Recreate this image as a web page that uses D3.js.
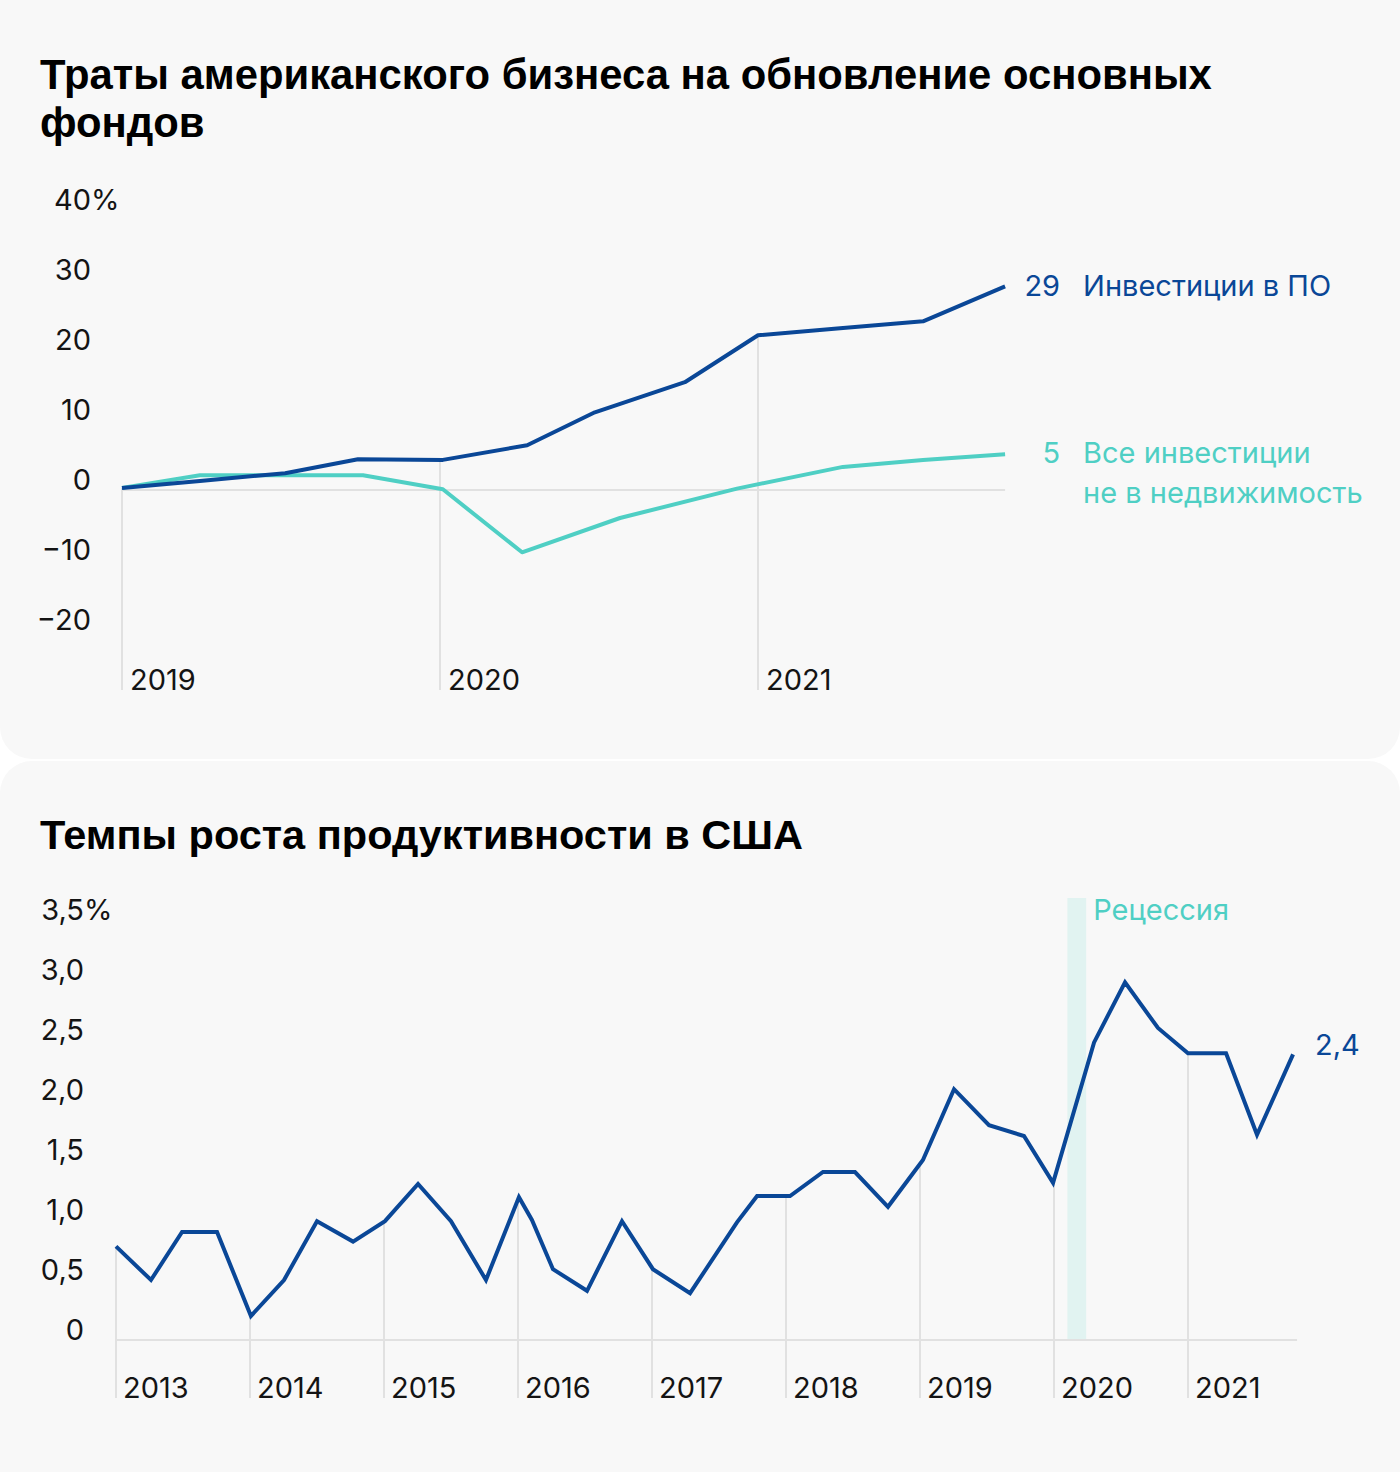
<!DOCTYPE html>
<html>
<head>
<meta charset="utf-8">
<script src="https://cdn.jsdelivr.net/npm/d3@7"></script>
<style>
  html, body { margin: 0; padding: 0; background: #ffffff; }
  svg { display: block; }
  text { font-family: Inter, Roboto, "Liberation Sans", sans-serif; }
</style>
</head>
<body>
<svg id="chart" width="1400" height="1472"></svg>
<script>
// ---------- DATA: chart 1 ----------
const title1 = ["Траты американского бизнеса на обновление основных", "фондов"];
const years1 = [2019, 2020, 2021];
const yTicks1 = [40, 30, 20, 10, 0, -10, -20];
const yTickLabels1 = ["40", "30", "20", "10", "0", "\u221210", "\u221220"];
// software investment (time in fractional years, value in %)
const softwareT = [2019.0, 2019.245, 2019.513, 2019.742, 2020.009, 2020.274, 2020.487, 2020.770, 2021.0, 2021.258, 2021.519, 2021.777];
const softwareV = [0.3, 1.3, 2.4, 4.4, 4.3, 6.4, 11.1, 15.4, 22.1, 23.1, 24.1, 29.1];
// all non-residential investment
const allInvT = [2019.0, 2019.245, 2019.758, 2020.009, 2020.258, 2020.566, 2020.934, 2021.267, 2021.519, 2021.777];
const allInvV = [0.3, 2.1, 2.1, 0.1, -8.9, -4.0, 0.2, 3.3, 4.3, 5.1];
const softwareLabel = ["29", "Инвестиции в ПО"];
const allInvLabel = ["5", "Все инвестиции", "не в недвижимость"];

// ---------- DATA: chart 2 ----------
const title2 = "Темпы роста продуктивности в США";
const years2 = [2013, 2014, 2015, 2016, 2017, 2018, 2019, 2020, 2021];
const yTicks2 = [3.5, 3.0, 2.5, 2.0, 1.5, 1.0, 0.5, 0];
const yTickLabels2 = ["3,5", "3,0", "2,5", "2,0", "1,5", "1,0", "0,5", "0"];
const prodT = [2013.0, 2013.261, 2013.493, 2013.754, 2014.007, 2014.254, 2014.5, 2014.769,
  2015.007, 2015.254, 2015.5, 2015.761, 2016.007, 2016.104, 2016.261, 2016.515, 2016.776,
  2017.007, 2017.284, 2017.634, 2017.784, 2018.03, 2018.276, 2018.515, 2018.761,
  2019.022, 2019.254, 2019.515, 2019.776, 2019.993, 2020.299, 2020.53, 2020.776,
  2021.0, 2021.284, 2021.515, 2021.784];
const prodV = [0.78, 0.5, 0.9, 0.9, 0.2, 0.5, 0.99, 0.82,
  0.99, 1.3, 0.99, 0.5, 1.19, 1.0, 0.59, 0.41, 0.99,
  0.59, 0.39, 0.98, 1.2, 1.2, 1.4, 1.4, 1.11,
  1.5, 2.09, 1.79, 1.7, 1.31, 2.48, 2.98, 2.6,
  2.39, 2.39, 1.71, 2.38];
const recession = [2020.10, 2020.24];
const recessionLabel = "Рецессия";
const prodLabel = "2,4";

// ---------- STYLE ----------
const C_DARK = "#0a4797";
const C_TEAL = "#4fcfc4";
const C_GRID = "#e1e1e1";
const C_TEXT = "#141414";
const C_CARD = "#f8f8f8";
const C_BAND = "#e1f3f1";
const FS = 29;

const svg = d3.select("#chart");

// cards
svg.append("rect").attr("x", 0).attr("y", -40).attr("width", 1400).attr("height", 799)
  .attr("rx", 32).attr("fill", C_CARD);
svg.append("rect").attr("x", 0).attr("y", 761).attr("width", 1400).attr("height", 751)
  .attr("rx", 32).attr("fill", C_CARD);

function interp(T, V, t) {
  const i = d3.bisectLeft(T, t);
  if (i <= 0) return V[0];
  if (i >= T.length) return V[V.length - 1];
  const f = (t - T[i - 1]) / (T[i] - T[i - 1]);
  return V[i - 1] + f * (V[i] - V[i - 1]);
}

// ================= CHART 1 =================
{
  const g = svg.append("g");
  title1.forEach((s, i) => {
    g.append("text").attr("x", 40).attr("y", 89 + i * 48)
      .attr("font-size", 41.8).attr("font-weight", 700).attr("fill", "#000")
      .style("font-family", "'Liberation Sans', Arial, sans-serif")
      .text(s);
  });

  const x = d3.scaleLinear().domain([2019, 2022]).range([122, 1076]);
  const y = d3.scaleLinear().domain([-20, 40]).range([630, 210]);
  const axisBottomY = 690;
  const lastT = softwareT[softwareT.length - 1];

  // zero line
  g.append("line").attr("x1", x(2019)).attr("x2", x(lastT))
    .attr("y1", y(0)).attr("y2", y(0))
    .attr("stroke", C_GRID).attr("stroke-width", 2);

  // year drop lines
  years1.forEach(yr => {
    const top = Math.min(y(interp(softwareT, softwareV, yr)), y(interp(allInvT, allInvV, yr)));
    g.append("line").attr("x1", x(yr)).attr("x2", x(yr))
      .attr("y1", top).attr("y2", axisBottomY)
      .attr("stroke", C_GRID).attr("stroke-width", 2);
    g.append("text").attr("x", x(yr) + 8).attr("y", axisBottomY)
      .attr("font-size", FS).attr("fill", C_TEXT).text(yr);
  });

  // y tick labels
  yTicks1.forEach((v, i) => {
    g.append("text").attr("x", 91).attr("y", y(v))
      .attr("text-anchor", "end").attr("font-size", FS).attr("fill", C_TEXT)
      .text(yTickLabels1[i]);
    if (i === 0) {
      g.append("text").attr("x", 91).attr("y", y(v))
        .attr("font-size", FS).attr("fill", C_TEXT).text("%");
    }
  });

  const line = d3.line().x(d => x(d[0])).y(d => y(d[1]));
  g.append("path").datum(d3.zip(allInvT, allInvV)).attr("d", line)
    .attr("fill", "none").attr("stroke", C_TEAL).attr("stroke-width", 4)
    .attr("stroke-linejoin", "round");
  g.append("path").datum(d3.zip(softwareT, softwareV)).attr("d", line)
    .attr("fill", "none").attr("stroke", C_DARK).attr("stroke-width", 4)
    .attr("stroke-linejoin", "round");

  // labels
  const sy = y(softwareV[softwareV.length - 1]) + 10;
  g.append("text").attr("x", x(lastT) + 55).attr("y", sy).attr("text-anchor", "end")
    .attr("font-size", FS).attr("fill", C_DARK).text(softwareLabel[0]);
  g.append("text").attr("x", x(lastT) + 78).attr("y", sy)
    .attr("font-size", FS).attr("fill", C_DARK).text(softwareLabel[1]);

  const ay = y(allInvV[allInvV.length - 1]) + 9;
  g.append("text").attr("x", x(lastT) + 55).attr("y", ay).attr("text-anchor", "end")
    .attr("font-size", FS).attr("fill", C_TEAL).text(allInvLabel[0]);
  g.append("text").attr("x", x(lastT) + 78).attr("y", ay)
    .attr("font-size", FS).attr("fill", C_TEAL).text(allInvLabel[1]);
  g.append("text").attr("x", x(lastT) + 78).attr("y", ay + 40)
    .attr("font-size", FS).attr("fill", C_TEAL).text(allInvLabel[2]);
}

// ================= CHART 2 =================
{
  const g = svg.append("g");
  g.append("text").attr("x", 40).attr("y", 849)
    .attr("font-size", 41.5).attr("font-weight", 700).attr("fill", "#000")
    .style("font-family", "'Liberation Sans', Arial, sans-serif")
    .text(title2);

  const x = d3.scaleLinear().domain([2013, 2022]).range([116, 1322]);
  const y = d3.scaleLinear().domain([0, 3.5]).range([1340, 920]);
  const axisBottomY = 1398;
  const lastT = prodT[prodT.length - 1];

  // recession band
  g.append("rect").attr("x", x(recession[0])).attr("width", x(recession[1]) - x(recession[0]))
    .attr("y", y(3.5) - 22).attr("height", y(0) - y(3.5) + 22)
    .attr("fill", C_BAND);
  g.append("text").attr("x", x(recession[1]) + 7).attr("y", y(3.5))
    .attr("font-size", FS).attr("fill", C_TEAL).text(recessionLabel);

  // zero line
  g.append("line").attr("x1", x(2013)).attr("x2", x(lastT) + 4)
    .attr("y1", y(0)).attr("y2", y(0))
    .attr("stroke", C_GRID).attr("stroke-width", 2);

  years2.forEach(yr => {
    g.append("line").attr("x1", x(yr)).attr("x2", x(yr))
      .attr("y1", y(interp(prodT, prodV, yr))).attr("y2", axisBottomY)
      .attr("stroke", C_GRID).attr("stroke-width", 2);
    g.append("text").attr("x", x(yr) + 7).attr("y", axisBottomY)
      .attr("font-size", FS).attr("fill", C_TEXT).text(yr);
  });

  yTicks2.forEach((v, i) => {
    g.append("text").attr("x", 84).attr("y", y(v))
      .attr("text-anchor", "end").attr("font-size", FS).attr("fill", C_TEXT)
      .text(yTickLabels2[i]);
    if (i === 0) {
      g.append("text").attr("x", 84).attr("y", y(v))
        .attr("font-size", FS).attr("fill", C_TEXT).text("%");
    }
  });

  const line = d3.line().x(d => x(d[0])).y(d => y(d[1]));
  g.append("path").datum(d3.zip(prodT, prodV)).attr("d", line)
    .attr("fill", "none").attr("stroke", C_DARK).attr("stroke-width", 4)
    .attr("stroke-linejoin", "miter");

  g.append("text").attr("x", x(lastT) + 22).attr("y", y(prodV[prodV.length - 1]) + 1)
    .attr("font-size", FS).attr("fill", C_DARK).text(prodLabel);
}
</script>
</body>
</html>
